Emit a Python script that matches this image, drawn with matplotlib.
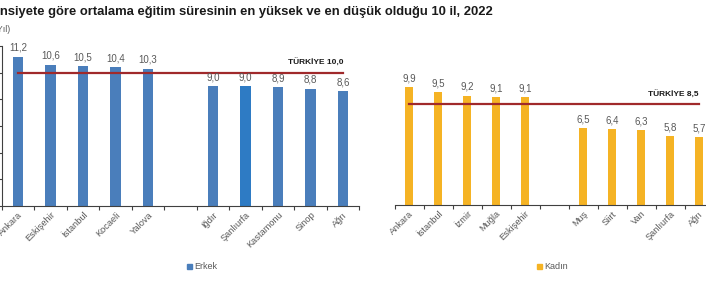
import matplotlib
matplotlib.use("Agg")
import matplotlib.pyplot as plt
import numpy as np

plt.rcParams['font.family'] = ['Liberation Sans', 'DejaVu Sans']

erkek_iller = ["Ankara", "Eskişehir", "İstanbul", "Kocaeli", "Yalova",
               "Iğdır", "Şanlıurfa", "Kastamonu", "Sinop", "Ağrı"]
erkek_vals = [11.2, 10.6, 10.5, 10.4, 10.3, 9.0, 9.0, 8.9, 8.8, 8.6]
erkek_turkiye = 10.0

kadin_iller = ["Ankara", "İstanbul", "İzmir", "Muğla", "Eskişehir",
               "Muş", "Siirt", "Van", "Şanlıurfa", "Ağrı"]
kadin_vals = [9.9, 9.5, 9.2, 9.1, 9.1, 6.5, 6.4, 6.3, 5.8, 5.7]
kadin_turkiye = 8.5

title = "Cinsiyete göre ortalama eğitim süresinin en yüksek ve en düşük olduğu 10 il, 2022"

W, H = 706, 283
fig = plt.figure(figsize=(W / 100, H / 100), dpi=100)

def fx(px):
    return px / W

def fy(px):
    return 1 - px / H

positions = [0, 1, 2, 3, 4, 6, 7, 8, 9, 10]
gray = "#595959"
red = "#A0292B"

def panel(ax, names, vals, colors, tv, ylim_top, show_left):
    ax.bar(positions, vals, width=0.31, color=colors, zorder=2)
    ax.plot([positions[0], positions[-1]], [tv, tv], color=red, lw=1.6, zorder=3)
    ax.text(positions[-1], tv + ylim_top * 0.035, "TÜRKİYE " + f"{tv:.1f}".replace(".", ","),
            ha="right", va="bottom", fontsize=6.0, fontweight="bold", color="#1a1a1a")
    for p, v in zip(positions, vals):
        ax.text(p, v + ylim_top * 0.025, f"{v:.1f}".replace(".", ","), ha="center",
                va="bottom", fontsize=7, color=gray)
    ax.set_xlim(-0.5, 10.5)
    ax.set_ylim(0, ylim_top)
    ax.set_xticks(np.arange(-0.5, 11, 1))
    ax.set_xticklabels([])
    ax.set_xticks(positions, minor=True)
    ax.set_xticklabels(names, minor=True, rotation=45, ha="right",
                       rotation_mode="anchor", fontsize=6.7, color=gray)
    ax.tick_params(axis="x", which="major", length=3, color="#404040", direction="out")
    ax.tick_params(axis="x", which="minor", length=0, pad=3)
    for s in ["top", "right"]:
        ax.spines[s].set_visible(False)
    ax.spines["bottom"].set_color("#404040")
    ax.spines["bottom"].set_linewidth(0.8)
    if show_left:
        ax.spines["left"].set_color("#404040")
        ax.spines["left"].set_linewidth(0.8)
        ax.set_yticks(np.arange(0, 13, 2))
        ax.set_yticklabels([])
        ax.tick_params(axis="y", length=3, color="#404040")
    else:
        ax.spines["left"].set_visible(False)
        ax.set_yticks([])
    ax.set_facecolor("none")

# left panel
left_l, left_r = 1.75, 359.25
bot = 206
ax1 = fig.add_axes([fx(left_l), fy(bot), fx(left_r - left_l), 160 / H])
blue = "#4A7EBB"
colors1 = [blue] * 10
colors1[6] = "#2E7BC4"
panel(ax1, erkek_iller, erkek_vals, colors1, erkek_turkiye, 12, True)

# right panel
r_l, r_r = 394.5, 713.5
bot2 = 205
ax2 = fig.add_axes([fx(r_l), fy(bot2), fx(r_r - r_l), 12 * 11.9 / H])
orange = "#F5B324"
panel(ax2, kadin_iller, kadin_vals, [orange] * 10, kadin_turkiye, 12, False)

# legends
for cx, color, txt in [(187, blue, "Erkek"), (537, orange, "Kadın")]:
    fig.patches.append(plt.Rectangle((fx(cx), fy(269)), fx(5), 5 / H,
                                     transform=fig.transFigure, color=color, figure=fig))
    fig.text(fx(cx + 7), fy(266.5), txt, fontsize=6.5, color=gray, va="center", ha="left")

# title and unit
fig.text(fx(-13), fy(12.5), title, fontsize=9.4, fontweight="bold", color="#1a1a1a",
         ha="left", va="center")
fig.text(fx(11), fy(30), "(Yıl)", fontsize=6.3, color=gray, ha="right", va="center")

fig.savefig("out.png", dpi=100)
